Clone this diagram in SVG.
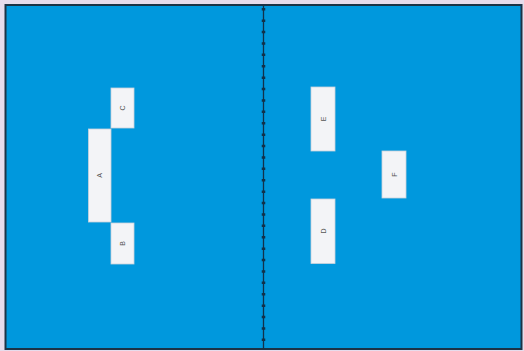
<svg xmlns="http://www.w3.org/2000/svg" width="524" height="351" viewBox="0 0 524 351">
<style>
.node rect{fill:#f3f4f7;stroke:#c9d3dc;stroke-width:0.8}
.node text{font-family:"Liberation Sans",Arial,sans-serif;font-size:7px;fill:#555;text-anchor:middle;dominant-baseline:central}
</style>
<rect x="0" y="0" width="524" height="351" fill="#e6dcec"/>
<rect x="5.5" y="5" width="516" height="344" fill="#0098dd" stroke="#1b3346" stroke-width="2"/>
<g id="divider">
<line x1="263.5" y1="5" x2="263.5" y2="349" stroke="#12324a" stroke-width="1.3"/>
<line x1="263.5" y1="8" x2="263.5" y2="345" stroke="#12324a" stroke-width="3.5" stroke-dasharray="2.5 8.9"/>
</g>
<g id="connectors"></g>
<g id="node-C" class="node"><rect x="111" y="88" width="23" height="40"/><text transform="translate(122.5,108) rotate(-90)">C</text></g>
<g id="node-A" class="node"><rect x="88.5" y="129" width="22.5" height="93"/><text transform="translate(99.8,175.5) rotate(-90)">A</text></g>
<g id="node-B" class="node"><rect x="111" y="223" width="23" height="41"/><text transform="translate(122.5,243.5) rotate(-90)">B</text></g>
<g id="node-E" class="node"><rect x="311" y="87" width="24" height="64"/><text transform="translate(323,119) rotate(-90)">E</text></g>
<g id="node-F" class="node"><rect x="382" y="151" width="24" height="47"/><text transform="translate(394,174.5) rotate(-90)">F</text></g>
<g id="node-D" class="node"><rect x="311" y="199" width="24" height="64.5"/><text transform="translate(323,231) rotate(-90)">D</text></g>
</svg>
